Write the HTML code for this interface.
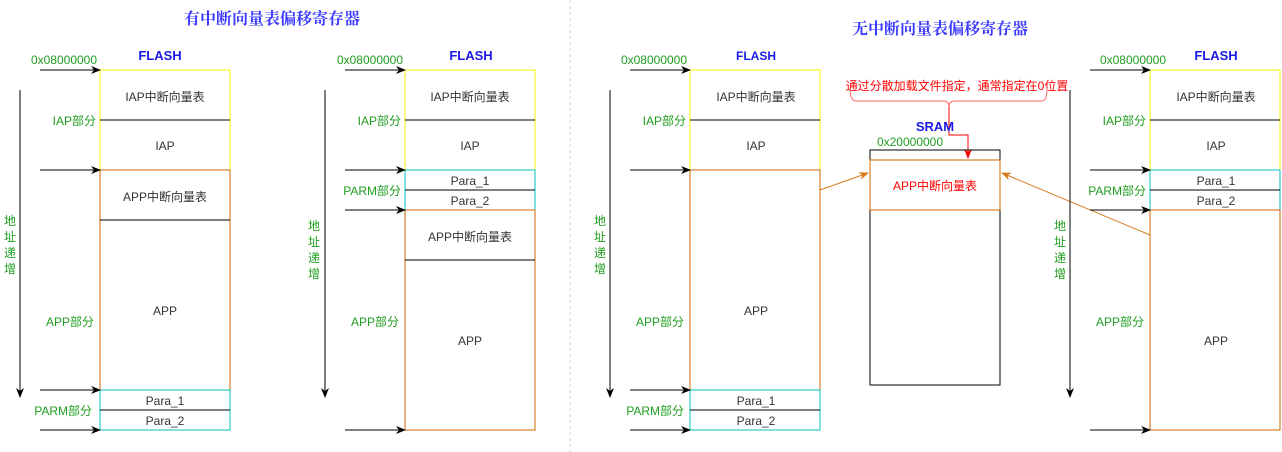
<!DOCTYPE html>
<html><head><meta charset="utf-8"><style>
html,body{margin:0;padding:0;background:#fff;}
svg{display:block;}
text{font-family:"Liberation Sans","Noto Sans CJK SC",sans-serif;font-size:12px;}
.g{fill:#1f9e1f;}
.k{fill:#333;}
.b{fill:#1a1ae6;font-weight:bold;font-size:13px;}
.t{fill:#3a3aff;font-family:"Noto Serif CJK SC",serif;font-size:16px;font-weight:bold;}
</style></head><body>
<svg width="1282" height="452" viewBox="0 0 1282 452" xmlns="http://www.w3.org/2000/svg">
<defs>
<marker id="a" markerWidth="10" markerHeight="8" refX="9" refY="4" orient="auto" markerUnits="userSpaceOnUse"><path d="M0,0 L10,4 L0,8 L3,4z" fill="#000"/></marker>
<marker id="o" markerWidth="10" markerHeight="8" refX="9" refY="4" orient="auto" markerUnits="userSpaceOnUse"><path d="M0,0 L10,4 L0,8 L3,4z" fill="#d67a1a"/></marker>
<marker id="r" markerWidth="10" markerHeight="8" refX="9" refY="4" orient="auto" markerUnits="userSpaceOnUse"><path d="M0,0 L10,4 L0,8 L3,4z" fill="#f00"/></marker>
</defs>
<line x1="570" y1="0" x2="570" y2="452" stroke="#ccc" stroke-dasharray="3,3"/>
<text x="272" y="24" class="t" text-anchor="middle">有中断向量表偏移寄存器</text>
<text x="940" y="34" class="t" text-anchor="middle">无中断向量表偏移寄存器</text>

<!-- Diagram 1 -->
<g>
<text x="64" y="64" class="g" text-anchor="middle">0x08000000</text>
<text x="160" y="60" class="b" text-anchor="middle">FLASH</text>
<line x1="20" y1="90" x2="20" y2="397" stroke="#000" marker-end="url(#a)"/>
<text class="g" x="4" y="225">地</text><text class="g" x="4" y="241">址</text><text class="g" x="4" y="257">递</text><text class="g" x="4" y="273">增</text>
<rect x="100" y="70" width="130" height="100" fill="none" stroke="#f5f500"/>
<rect x="100" y="170" width="130" height="220" fill="none" stroke="#cc6600"/>
<rect x="100" y="390" width="130" height="40" fill="none" stroke="#00bfbf"/>
<line x1="100" y1="120" x2="230" y2="120" stroke="#000"/>
<line x1="100" y1="220" x2="230" y2="220" stroke="#000"/>
<line x1="100" y1="410" x2="230" y2="410" stroke="#000"/>
<text x="165" y="101" class="k" text-anchor="middle">IAP中断向量表</text>
<text x="165" y="150" class="k" text-anchor="middle">IAP</text>
<text x="165" y="201" class="k" text-anchor="middle">APP中断向量表</text>
<text x="165" y="315" class="k" text-anchor="middle">APP</text>
<text x="165" y="405" class="k" text-anchor="middle">Para_1</text>
<text x="165" y="425" class="k" text-anchor="middle">Para_2</text>
<text x="96" y="125" class="g" text-anchor="end">IAP部分</text>
<text x="94" y="326" class="g" text-anchor="end">APP部分</text>
<text x="92" y="415" class="g" text-anchor="end">PARM部分</text>
<line x1="40" y1="70" x2="100" y2="70" stroke="#000" marker-end="url(#a)"/>
<line x1="40" y1="170" x2="100" y2="170" stroke="#000" marker-end="url(#a)"/>
<line x1="40" y1="390" x2="100" y2="390" stroke="#000" marker-end="url(#a)"/>
<line x1="40" y1="430" x2="100" y2="430" stroke="#000" marker-end="url(#a)"/>
</g>

<!-- Diagram 2 -->
<g>
<text x="370" y="64" class="g" text-anchor="middle">0x08000000</text>
<text x="471" y="60" class="b" text-anchor="middle">FLASH</text>
<line x1="325" y1="90" x2="325" y2="397" stroke="#000" marker-end="url(#a)"/>
<text class="g" x="308" y="230">地</text><text class="g" x="308" y="246">址</text><text class="g" x="308" y="262">递</text><text class="g" x="308" y="278">增</text>
<rect x="405" y="70" width="130" height="100" fill="none" stroke="#f5f500"/>
<rect x="405" y="170" width="130" height="40" fill="none" stroke="#00bfbf"/>
<rect x="405" y="210" width="130" height="220" fill="none" stroke="#cc6600"/>
<line x1="405" y1="120" x2="535" y2="120" stroke="#000"/>
<line x1="405" y1="190" x2="535" y2="190" stroke="#000"/>
<line x1="405" y1="260" x2="535" y2="260" stroke="#000"/>
<text x="470" y="101" class="k" text-anchor="middle">IAP中断向量表</text>
<text x="470" y="150" class="k" text-anchor="middle">IAP</text>
<text x="470" y="185" class="k" text-anchor="middle">Para_1</text>
<text x="470" y="205" class="k" text-anchor="middle">Para_2</text>
<text x="470" y="241" class="k" text-anchor="middle">APP中断向量表</text>
<text x="470" y="345" class="k" text-anchor="middle">APP</text>
<text x="401" y="125" class="g" text-anchor="end">IAP部分</text>
<text x="401" y="195" class="g" text-anchor="end">PARM部分</text>
<text x="399" y="326" class="g" text-anchor="end">APP部分</text>
<line x1="345" y1="70" x2="405" y2="70" stroke="#000" marker-end="url(#a)"/>
<line x1="345" y1="170" x2="405" y2="170" stroke="#000" marker-end="url(#a)"/>
<line x1="345" y1="210" x2="405" y2="210" stroke="#000" marker-end="url(#a)"/>
<line x1="345" y1="430" x2="405" y2="430" stroke="#000" marker-end="url(#a)"/>
</g>

<!-- Diagram 3 -->
<g>
<text x="654" y="64" class="g" text-anchor="middle">0x08000000</text>
<text x="756" y="60" class="b" text-anchor="middle" style="font-size:12px">FLASH</text>
<line x1="610" y1="90" x2="610" y2="397" stroke="#000" marker-end="url(#a)"/>
<text class="g" x="594" y="225">地</text><text class="g" x="594" y="241">址</text><text class="g" x="594" y="257">递</text><text class="g" x="594" y="273">增</text>
<rect x="690" y="70" width="130" height="100" fill="none" stroke="#f5f500"/>
<rect x="690" y="170" width="130" height="220" fill="none" stroke="#cc6600"/>
<rect x="690" y="390" width="130" height="40" fill="none" stroke="#00bfbf"/>
<line x1="690" y1="120" x2="820" y2="120" stroke="#000"/>
<line x1="690" y1="410" x2="820" y2="410" stroke="#000"/>
<text x="756" y="101" class="k" text-anchor="middle">IAP中断向量表</text>
<text x="756" y="150" class="k" text-anchor="middle">IAP</text>
<text x="756" y="315" class="k" text-anchor="middle">APP</text>
<text x="756" y="405" class="k" text-anchor="middle">Para_1</text>
<text x="756" y="425" class="k" text-anchor="middle">Para_2</text>
<text x="686" y="125" class="g" text-anchor="end">IAP部分</text>
<text x="684" y="326" class="g" text-anchor="end">APP部分</text>
<text x="684" y="415" class="g" text-anchor="end">PARM部分</text>
<line x1="630" y1="70" x2="690" y2="70" stroke="#000" marker-end="url(#a)"/>
<line x1="630" y1="170" x2="690" y2="170" stroke="#000" marker-end="url(#a)"/>
<line x1="630" y1="390" x2="690" y2="390" stroke="#000" marker-end="url(#a)"/>
<line x1="630" y1="430" x2="690" y2="430" stroke="#000" marker-end="url(#a)"/>
</g>

<!-- SRAM -->
<g>
<text x="957" y="90" fill="#f00" text-anchor="middle">通过分散加载文件指定，通常指定在0位置</text>
<path d="M850,88 Q850,101 856,101 L943,101 Q949,101 949,107 Q949,101 955,101 L1042,101 Q1047,101 1047,88" fill="none" stroke="#ff6666"/>
<path d="M949,107 L949,135 L968,135 L968,158" fill="none" stroke="#f00" marker-end="url(#r)"/>
<text x="935" y="131" class="b" text-anchor="middle">SRAM</text>
<text x="910" y="146" class="g" text-anchor="middle">0x20000000</text>
<rect x="870" y="150" width="130" height="235" fill="none" stroke="#000"/>
<rect x="870" y="160" width="130" height="50" fill="#fff" stroke="#cc6600"/>
<text x="935" y="190" fill="#f00" text-anchor="middle">APP中断向量表</text>
<line x1="820" y1="190" x2="868" y2="173" stroke="#d67a1a" marker-end="url(#o)"/>
<line x1="1150" y1="235" x2="1002" y2="173" stroke="#d67a1a" marker-end="url(#o)"/>
</g>

<!-- Diagram 4 -->
<g>
<text x="1133" y="64" class="g" text-anchor="middle">0x08000000</text>
<text x="1216" y="60" class="b" text-anchor="middle">FLASH</text>
<line x1="1070" y1="90" x2="1070" y2="397" stroke="#000" marker-end="url(#a)"/>
<text class="g" x="1054" y="230">地</text><text class="g" x="1054" y="246">址</text><text class="g" x="1054" y="262">递</text><text class="g" x="1054" y="278">增</text>
<rect x="1150" y="70" width="130" height="100" fill="none" stroke="#f5f500"/>
<rect x="1150" y="170" width="130" height="40" fill="none" stroke="#00bfbf"/>
<rect x="1150" y="210" width="130" height="220" fill="none" stroke="#cc6600"/>
<line x1="1150" y1="120" x2="1280" y2="120" stroke="#000"/>
<line x1="1150" y1="190" x2="1280" y2="190" stroke="#000"/>
<text x="1216" y="101" class="k" text-anchor="middle">IAP中断向量表</text>
<text x="1216" y="150" class="k" text-anchor="middle">IAP</text>
<text x="1216" y="185" class="k" text-anchor="middle">Para_1</text>
<text x="1216" y="205" class="k" text-anchor="middle">Para_2</text>
<text x="1216" y="345" class="k" text-anchor="middle">APP</text>
<text x="1146" y="125" class="g" text-anchor="end">IAP部分</text>
<text x="1146" y="195" class="g" text-anchor="end">PARM部分</text>
<text x="1144" y="326" class="g" text-anchor="end">APP部分</text>
<line x1="1090" y1="70" x2="1150" y2="70" stroke="#000" marker-end="url(#a)"/>
<line x1="1090" y1="170" x2="1150" y2="170" stroke="#000" marker-end="url(#a)"/>
<line x1="1090" y1="210" x2="1150" y2="210" stroke="#000" marker-end="url(#a)"/>
<line x1="1090" y1="430" x2="1150" y2="430" stroke="#000" marker-end="url(#a)"/>
</g>
</svg>
</body></html>
